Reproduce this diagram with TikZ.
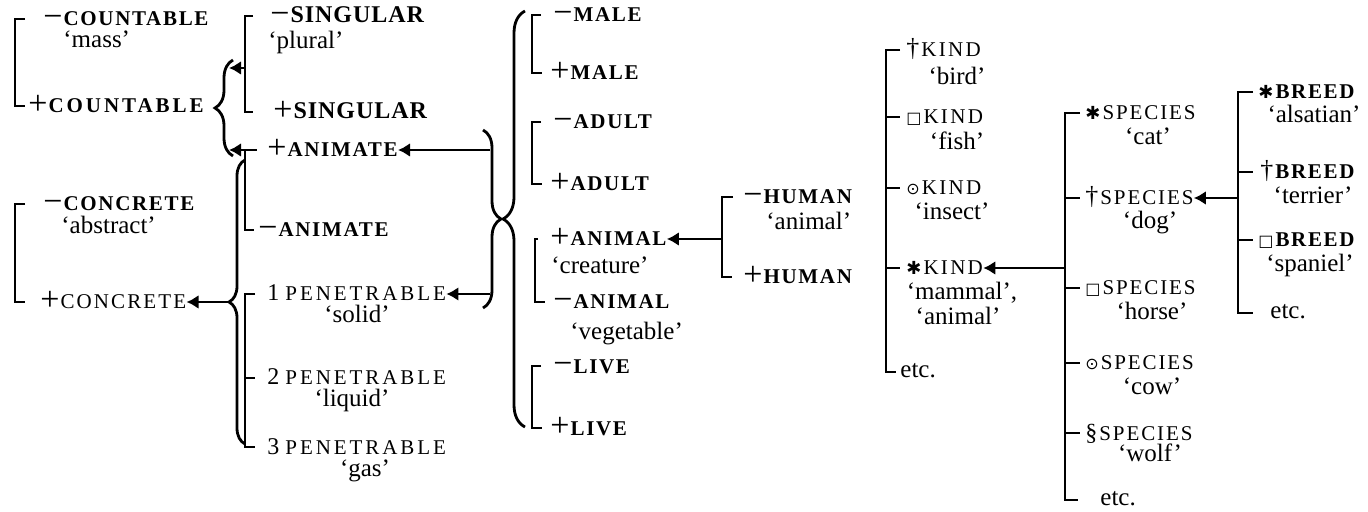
\documentclass[tikz,border=0pt]{standalone}
\usepackage{fontspec}
\setmainfont{Liberation Serif}
\newfontfamily\symfont{DejaVu Sans}
\usetikzlibrary{arrows.meta,decorations.pathreplacing,calc}

% feature names: bold / regular, letter spaced
\newcommand{\fea}[2][8]{{\fontsize{10.5}{12}\selectfont\bfseries\addfontfeatures{LetterSpace=#1}#2}}
\newcommand{\feb}[2][8]{{\fontsize{10.5}{12}\selectfont\addfontfeatures{LetterSpace=#1}#2}}
\newcommand{\fec}[1]{{\fontsize{12}{12}\selectfont\bfseries\addfontfeatures{LetterSpace=4}#1}}
% signs and marks
\newcommand{\mn}{{\fontsize{17}{17}\selectfont\raisebox{-0.9pt}{−}}\hspace{0.5pt}}
\newcommand{\pl}{{\fontsize{17}{17}\selectfont\raisebox{-0.9pt}{+}}\hspace{0.5pt}}
\newcommand{\nm}[1]{{\fontsize{12}{12}\selectfont #1}\hspace{3pt}}
\newcommand{\dg}{{\fontsize{13}{13}\selectfont †}\hspace{1pt}}
\newcommand{\sect}{{\fontsize{12}{12}\selectfont §}\hspace{1pt}}
\newcommand{\sq}{{\symfont\fontsize{8}{8}\selectfont □}\hspace{1pt}}
\newcommand{\ci}{{\symfont\fontsize{8}{8}\selectfont ⊙}\hspace{1pt}}
\newcommand{\st}{{\symfont\fontsize{9}{9}\selectfont ✱}\hspace{1pt}}

\tikzset{
  ft/.style={anchor=west, inner sep=0pt, text height=7pt, text depth=0pt},
  gl/.style={inner sep=0pt, text height=8.5pt, text depth=2.7pt, font=\fontsize{12.5}{14}\selectfont},
  brk/.style={line width=1.3pt},
  arr/.style={line width=1.2pt, -{Latex[length=6pt,width=7pt]}},
  brc/.style={line width=1.4pt, decorate, decoration={brace, amplitude=#1}}
}

\begin{document}
\begin{tikzpicture}[x=0.5pt,y=-0.5pt]
	\useasboundingbox (0,0) rectangle (1368,512);

	% countable
	\node[ft] (cntm) at (43,19) {\mn\fea{COUNTABLE}};
	\node[gl,anchor=west] (mass) at (63,42) {‘mass’};
	\node[ft] (cntp) at (28,106) {\pl\fea[14]{COUNTABLE}};
	\draw[brk] ($(cntm.west)+(-18,0)$) -| ($(cntp.west)+(-13,0)$) -- ($(cntp.west)+(-3,0)$);

	% concrete
	\node[ft] (ccm) at (43,204) {\mn\fea{CONCRETE}};
	\node[gl,anchor=west] (abst) at (61,228) {‘abstract’};
	\node[ft] (ccp) at (40,302) {\pl\feb[10]{CONCRETE}};
	\draw[brk] ($(ccm.west)+(-18,0)$) -| ($(ccp.west)+(-25,0)$) -- ($(ccp.west)+(-15,0)$);

	% singular
	\node[ft] (sgm) at (270,16) {\mn\fec{SINGULAR}};
	\node[gl,anchor=west] (plur) at (268,43) {‘plural’};
	\node[ft] (sgp) at (273,112) {\pl\fec{SINGULAR}};
	\draw[brk] ($(sgm.west)+(-17,0)$) -| ($(sgp.west)+(-28,0)$) -- ($(sgp.west)+(-20,0)$);

	% animate
	\node[ft] (anp) at (267,150) {\pl\fea{ANIMATE}};
	\node[ft] (anm) at (258,230) {\mn\fea{ANIMATE}};
	\coordinate (anv) at (245,150);
	\draw[brk] (anv) -- ($(anp.west)+(-10,0)$);
	\draw[brk] (anv) |- ($(anm.west)+(-4,0)$);

	% penetrable
	\node[ft] (pe1) at (267,294) {\nm{1}\feb[14]{PENETRABLE}};
	\node[gl] (sol) at (357,317) {‘solid’};
	\node[ft] (pe2) at (267,378) {\nm{2}\feb[14]{PENETRABLE}};
	\node[gl] (liq) at (352,401) {‘liquid’};
	\node[ft] (pe3) at (267,447) {\nm{3}\feb[14]{PENETRABLE}};
	\node[gl] (gas) at (365,471) {‘gas’};
	\draw[brk] ($(pe1.west)+(-12,0)$) -| ($(pe3.west)+(-22,0)$) -- ($(pe3.west)+(-12,0)$);
	\draw[brk] ($(pe2.west)+(-22,0)$) -- ($(pe2.west)+(-12,0)$);

	% braces on the left
	\coordinate (b1t) at (233,60);
	\coordinate (b1b) at (233,156);
	\draw[brc=9pt] (b1b) -- (b1t);
	\coordinate (sgv) at (245,68);
	\coordinate (b1u) at (229,68);
	\coordinate (b1d) at (229,150);
	\draw[arr] (sgv) -- (b1u);
	\draw[arr] (anv) -- (b1d);

	\coordinate (b2t) at (245,160);
	\coordinate (b2b) at (245,444);
	\draw[brc=8pt] (b2b) -- (b2t);
	\coordinate (b2c) at (229,302);
	\draw[arr] (b2c) -- (ccp.east);

	\coordinate (b3t) at (483,130);
	\coordinate (b3b) at (483,308);
	\draw[brc=9pt] (b3t) -- (b3b);
	\coordinate (b3a) at (490,150);
	\coordinate (b3p) at (490,294);
	\draw[arr] (b3a) -- (anp.east);
	\draw[arr] (b3p) -- (pe1.east);

	\coordinate (b4t) at (525,11);
	\coordinate (b4b) at (525,427);
	\draw[brc=11pt] (b4b) -- (b4t);

	% male, adult, animal, live
	\node[ft] (mam) at (553,15) {\mn\fea{MALE}};
	\node[ft] (map) at (550,73) {\pl\fea{MALE}};
	\node[ft] (adm) at (553,122) {\mn\fea{ADULT}};
	\node[ft] (adp) at (550,184) {\pl\fea{ADULT}};
	\node[ft] (alp) at (550,239) {\pl\fea{ANIMAL}};
	\node[gl,anchor=west] (crea) at (551,268) {‘creature’};
	\node[ft] (alm) at (553,302) {\mn\fea{ANIMAL}};
	\node[gl,anchor=west] (vege) at (570,334) {‘vegetable’};
	\node[ft] (lvm) at (553,366) {\mn\fea{LIVE}};
	\node[ft] (lvp) at (550,428) {\pl\fea{LIVE}};
	\foreach \a/\b in {mam/map,adm/adp,alp/alm,lvm/lvp}{
		\draw[brk] ($(\a.west)+(-12,0)$) -| ($(\b.west)+(-18,0)$) -- ($(\b.west)+(-8,0)$);
	}

	% human
	\node[ft] (hum) at (743,197) {\mn\fea{HUMAN}};
	\node[gl,anchor=west] (anim) at (766,224) {‘animal’};
	\node[ft] (hup) at (743,277) {\pl\fea{HUMAN}};
	\draw[brk] ($(hum.west)+(-10,0)$) -| ($(hup.west)+(-21,0)$) -- ($(hup.west)+(-11,0)$);
	\coordinate (huv) at (722,239);
	\draw[arr] (huv) -- (alp.east);

	% kind
	\node[ft] (ki1) at (906,50) {\dg\feb[11]{KIND}};
	\node[gl] (bird) at (957,79) {‘bird’};
	\node[ft] (ki2) at (906,117) {\sq\feb[11]{KIND}};
	\node[gl] (fish) at (957,144) {‘fish’};
	\node[ft] (ki3) at (906,188) {\ci\feb[11]{KIND}};
	\node[gl] (inse) at (952,214) {‘insect’};
	\node[ft] (ki4) at (906,268) {\st\feb[11]{KIND}};
	\node[gl] (mamm) at (962,294) {‘mammal’,};
	\node[gl] (ani2) at (958,319) {‘animal’};
	\node[gl,anchor=west] (ki5) at (900,372) {etc.};
	\draw[brk] ($(ki1.west)+(-6,0)$) -| ($(ki5.west)+(-14,0)$) -- ($(ki5.west)+(-4,0)$);
	\foreach \n in {ki2,ki3,ki4}
		\draw[brk] ($(\n.west)+(-20,0)$) -- ($(\n.west)+(-6,0)$);
	\coordinate (spv) at (1065,268);
	\draw[arr] (spv) -- (ki4.east);

	% species
	\node[ft] (sp1) at (1085,113) {\st\feb[9]{SPECIES}};
	\node[gl] (cat) at (1148,139) {‘cat’};
	\node[ft] (sp2) at (1085,198) {\dg\feb[9]{SPECIES}};
	\node[gl] (dog) at (1150,223) {‘dog’};
	\node[ft] (sp3) at (1085,288) {\sq\feb[9]{SPECIES}};
	\node[gl] (hors) at (1152,314) {‘horse’};
	\node[ft] (sp4) at (1085,363) {\ci\feb[9]{SPECIES}};
	\node[gl] (cow) at (1152,389) {‘cow’};
	\node[ft] (sp5) at (1085,433) {\sect\feb[9]{SPECIES}};
	\node[gl] (wolf) at (1150,456) {‘wolf’};
	\node[gl,anchor=west] (sp6) at (1100,500) {etc.};
	\draw[brk] ($(sp1.west)+(-5,0)$) -| ($(sp6.west)+(-35,0)$) -- ($(sp6.west)+(-22,0)$);
	\foreach \n in {sp2,sp3,sp4,sp5}
		\draw[brk] ($(\n.west)+(-20,0)$) -- ($(\n.west)+(-5,0)$);
	\coordinate (brv) at (1238,198);
	\draw[arr] (brv) -- (sp2.east);

	% breed
	\node[ft] (br1) at (1258,92) {\st\fea{BREED}};
	\node[gl] (alsa) at (1314,117) {‘alsatian’};
	\node[ft] (br2) at (1260,172) {\dg\fea{BREED}};
	\node[gl] (terr) at (1313,198) {‘terrier’};
	\node[ft] (br3) at (1258,240) {\sq\fea{BREED}};
	\node[gl] (span) at (1310,266) {‘spaniel’};
	\node[gl,anchor=west] (br4) at (1270,313) {etc.};
	\draw[brk] ($(br1.west)+(-5,0)$) -| ($(br4.west)+(-32,0)$) -- ($(br4.west)+(-17,0)$);
	\draw[brk] ($(br2.west)+(-22,0)$) -- ($(br2.west)+(-7,0)$);
	\draw[brk] ($(br3.west)+(-20,0)$) -- ($(br3.west)+(-5,0)$);
\end{tikzpicture}
\end{document}
